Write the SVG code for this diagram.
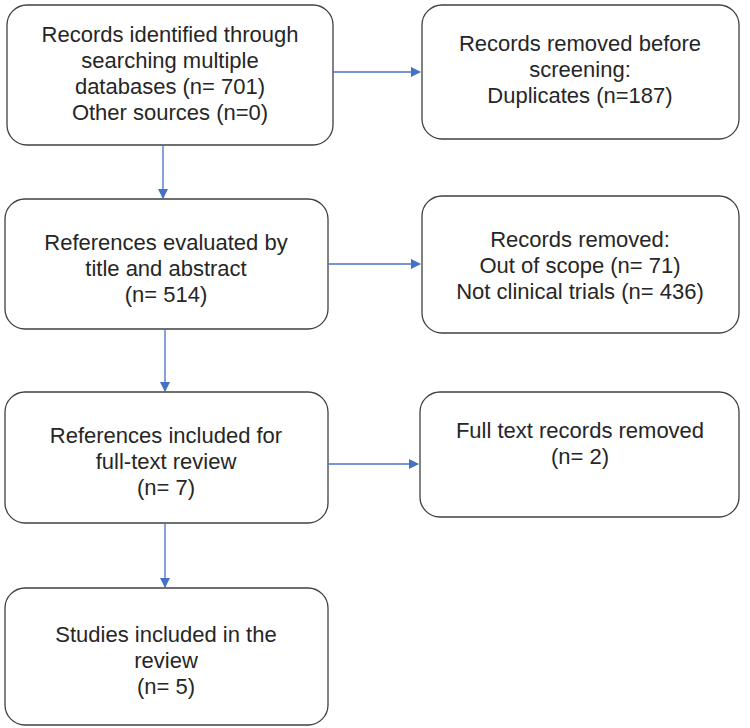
<svg xmlns="http://www.w3.org/2000/svg" width="750" height="728" viewBox="0 0 750 728">
<style>
.b{fill:#fff;stroke:#404040;stroke-width:1.3}
text{font-family:"Liberation Sans",Arial,sans-serif;font-size:22px;fill:#262626;text-anchor:middle}
.c{stroke:#4472C4;stroke-width:1.3;fill:none;marker-end:url(#a)}
</style>
<defs><marker id="a" markerWidth="10" markerHeight="10" refX="9" refY="5" orient="auto" markerUnits="userSpaceOnUse"><path d="M0,0 L10,5 L0,10 Z" fill="#4472C4"/></marker></defs>
<rect width="750" height="728" fill="#fff"/>
<g id="n1"><rect class="b" x="7" y="5" width="326" height="140" rx="20"/>
<text x="170" y="42">Records identified through</text><text x="170" y="68">searching multiple</text><text x="170" y="94">databases (n= 701)</text><text x="170" y="120">Other sources (n=0)</text></g>
<g id="n2"><rect class="b" x="422" y="5" width="317" height="134" rx="20"/>
<text x="580" y="51">Records removed before</text><text x="580" y="77">screening:</text><text x="580" y="103">Duplicates (n=187)</text></g>
<g id="n3"><rect class="b" x="5" y="199" width="323" height="130" rx="20"/>
<text x="166" y="250">References evaluated by</text><text x="166" y="276">title and abstract</text><text x="166" y="302">(n= 514)</text></g>
<g id="n4"><rect class="b" x="422" y="196" width="317" height="137" rx="20"/>
<text x="580" y="247">Records removed:</text><text x="580" y="273">Out of scope (n= 71)</text><text x="580" y="299">Not clinical trials (n= 436)</text></g>
<g id="n5"><rect class="b" x="5" y="392" width="323" height="131" rx="20"/>
<text x="166" y="443">References included for</text><text x="166" y="469">full-text review</text><text x="166" y="495">(n= 7)</text></g>
<g id="n6"><rect class="b" x="420" y="392" width="319" height="125" rx="20"/>
<text x="580" y="438">Full text records removed</text><text x="580" y="464">(n= 2)</text></g>
<g id="n7"><rect class="b" x="5" y="588" width="323" height="137" rx="20"/>
<text x="166" y="642">Studies included in the</text><text x="166" y="668">review</text><text x="166" y="694">(n= 5)</text></g>
<g id="connectors">
<path class="c" d="M333,72 H420"/>
<path class="c" d="M163,145 V198"/>
<path class="c" d="M328,264 H420"/>
<path class="c" d="M165,329 V391"/>
<path class="c" d="M328,464 H418"/>
<path class="c" d="M165,523 V587"/>
</g>
</svg>
